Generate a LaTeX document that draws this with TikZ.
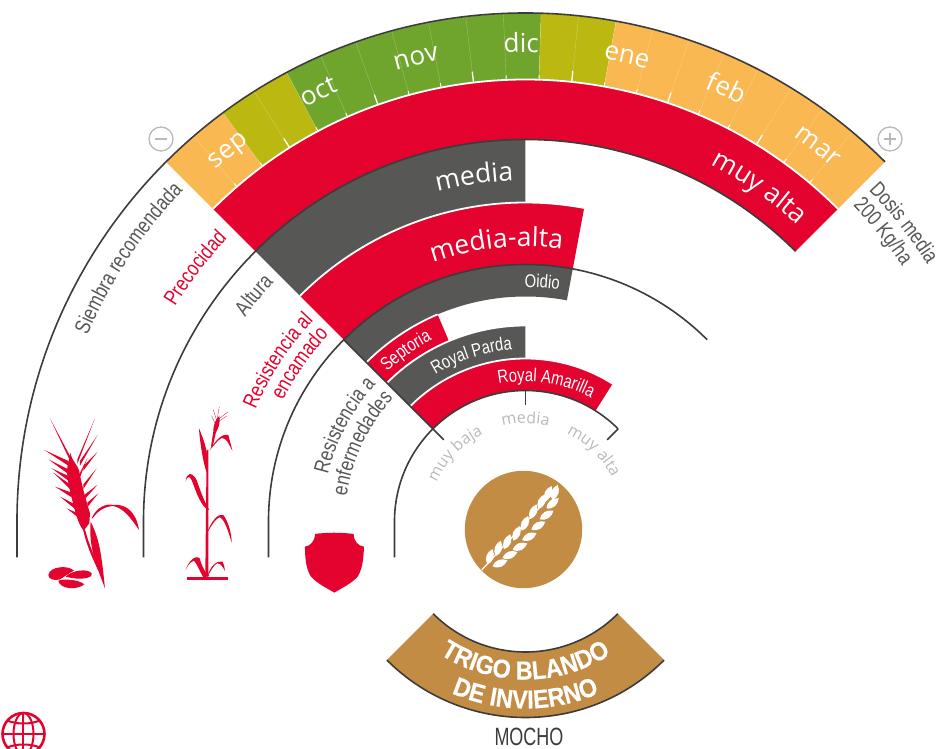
\documentclass[tikz,border=0pt]{standalone}
\usepackage{fontspec}
\usetikzlibrary{decorations.text}
\newfontfamily\fo{Open Sans}
\newfontfamily\fn[FakeStretch=0.80]{Liberation Sans}
\newfontfamily\fb[FakeStretch=0.90,FakeBold=0.3]{Liberation Sans Bold}
\newfontfamily\fm[FakeStretch=0.72]{Liberation Sans}
\definecolor{cred}{HTML}{E4032E}
\definecolor{cdark}{HTML}{575756}
\definecolor{cline}{HTML}{3C3C3B}
\definecolor{corange}{HTML}{F9B851}
\definecolor{cyell}{HTML}{BBB811}
\definecolor{cgreen}{HTML}{6FA52D}
\definecolor{ctan}{HTML}{C28C45}
\definecolor{cgrey}{HTML}{B9B9B9}
\tikzset{
  darkarc/.style={draw=cline,line width=1.6pt},
  whitearc/.style={draw=white,line width=1.8pt},
  signring/.style={draw=cgrey,line width=1.3pt},
  iconred/.style={fill=cred,draw=none},
  awn/.style={draw=cred,line width=0.3pt,line cap=round},
}
\newcommand\sector[5]{\fill[#1] (#4:#3) arc[start angle=#4,end angle=#5,radius=#3] -- (#5:#2) arc[start angle=#5,end angle=#4,radius=#2] -- cycle;}
\newcommand\arctxt[6]{\path[decorate,decoration={text along path,text align=#5,text={|#1|#6}}] (#3:#2) arc[start angle=#3,end angle=#4,radius=#2];}
\newcommand\fsMonth{\fo\fontsize{26}{26}\selectfont\color{white}}
\newcommand\fsBig{\fo\fontsize{26.5}{26.5}\selectfont\color{white}}
\newcommand\fsSide{\fn\fontsize{21.5}{21.5}\selectfont\color{cdark}}
\newcommand\fsSideR{\fn\fontsize{21.5}{21.5}\selectfont\color{cred}}
\newcommand\fsBand{\fn\fontsize{18.5}{18.5}\selectfont\color{white}}
\newcommand\fsScale{\fo\fontsize{16}{16}\selectfont\color{cgrey}}
\newcommand\fsBan{\fb\fontsize{26}{26}\selectfont\color{white}}
\begin{document}
\begin{tikzpicture}[x=1pt,y=1pt]
\useasboundingbox (-525.5,-227.5) rectangle (414.5,521.5);
% month band
\sector{corange}{442}{508}{135}{126.5}
\sector{cyell}{442}{508}{126.5}{118}
\sector{cgreen}{442}{508}{118}{88.25}
\sector{cyell}{442}{508}{88.25}{79.75}
\sector{corange}{442}{508}{79.75}{45}
\foreach \i in {1,...,20}{
  \pgfmathsetmacro\aa{135-4.25*\i}
  \draw[white,opacity=0.3,line width=0.4pt] (\aa:447) -- (\aa:508);
  \pgfmathtruncatemacro\mm{mod(\i,3)}
  \ifnum\mm=0 \draw[white,line width=1.3pt] (\aa:442) -- (\aa:453);
  \else \draw[white,line width=1pt] (\aa:442) -- (\aa:446.5); \fi
}
% bands
\sector{cred}{382}{442}{135}{45}
\sector{cdark}{319}{382}{135}{90}
\sector{cred}{257}{319}{135}{79.4}
\sector{cdark}{225}{257}{135}{79.4}
\sector{cred}{196}{225}{135}{113}
\sector{cdark}{163}{196}{135}{90}
\sector{cred}{131}{163}{135}{57.7}
% white separators
\draw[whitearc] (135:442) arc[start angle=135,end angle=45,radius=442];
\draw[whitearc] (135:319) arc[start angle=135,end angle=79.4,radius=319];
\draw[whitearc] (135:225) arc[start angle=135,end angle=113,radius=225];
\draw[whitearc] (135:196) arc[start angle=135,end angle=90,radius=196];
\draw[whitearc] (135:163) arc[start angle=135,end angle=57.7,radius=163];
% dark arcs
\foreach \r/\e in {508.5/45,382/45,257/45,131/45}{
  \draw[darkarc] (-\r,-36) -- (-\r,0) arc[start angle=180,end angle=\e,radius=\r];
}
\draw[darkarc] (135:257) -- (135:115.5);
\draw[darkarc] (45:131) -- (45:115.5);
\draw[darkarc] (0,131) -- (0,116.5);
% sign rings
\node[circle,signring,minimum size=24pt,inner sep=0pt] (minus) at (-364.5,382.5) {};
\node[circle,signring,minimum size=24pt,inner sep=0pt] (plus) at (364.5,382.5) {};
\draw[draw=cgrey,line width=1.3pt] (-370.5,382.5) -- (-358.5,382.5);
\draw[draw=cgrey,line width=1.3pt] (358.5,382.5) -- (370.5,382.5) (364.5,376.5) -- (364.5,388.5);
% month labels
\arctxt{\fsMonth}{469}{158.7}{98.7}{center}{sep}
\arctxt{\fsMonth}{469}{145.7}{85.7}{center}{oct}
\arctxt{\fsMonth}{469}{133.3}{73.3}{center}{nov}
\arctxt{\fsMonth}{469}{120.5}{60.5}{center}{dic}
\arctxt{\fsMonth}{469}{107.7}{47.7}{center}{ene}
\arctxt{\fsMonth}{469}{95.1}{35.1}{center}{feb}
\arctxt{\fsMonth}{469}{82.1}{22.1}{center}{mar}
% band labels
\arctxt{\fsBig}{402}{85}{25}{center}{muy alta}
\arctxt{\fsBig}{341}{152}{92}{right}{media}
\arctxt{\fsBig}{275}{156}{36}{center}{media-alta}
\arctxt{\fsBand}{234}{146}{26}{center}{Oidio}
\arctxt{\fsBand}{204}{185}{65}{center}{Septoria}
\arctxt{\fsBand}{172}{168}{48}{center}{Royal Parda}
\arctxt{\fsBand}{140}{141.5}{21.5}{center}{Royal Amarilla}
% scale labels
\arctxt{\fsScale}{98}{150}{30}{center}{media}
\arctxt{\fsScale}{97}{196}{76}{center}{muy baja}
\arctxt{\fsScale}{97}{106}{-14}{center}{muy alta}
% side labels
\arctxt{\fsSide}{476}{230}{136}{right}{Siembra recomendada}
\arctxt{\fsSideR}{411}{230}{136.5}{right}{Precocidad}
\arctxt{\fsSide}{347}{230}{136.5}{right}{Altura}
\arctxt{\fsSideR}{292}{230}{136.5}{right}{Resistencia al}
\arctxt{\fsSideR}{271}{230}{136.5}{right}{encamado}
\arctxt{\fsSide}{203}{230}{137.5}{right}{Resistencia a}
\arctxt{\fsSide}{180.5}{230}{137}{right}{enfermedades}
\arctxt{\fsSide}{477}{44}{-50}{left}{Dosis media}
\arctxt{\fsSide}{455}{44}{-50}{left}{200 Kg/ha}
% central circle and wheat
\node[circle,fill=ctan,minimum size=117.4pt,inner sep=0pt] (seal) at (-2,-8) {};
\draw[white,line width=1.2pt,line cap=round] (-43.8,-48.5) -- (27.5,28.5);
\foreach \x/\y/\a in {360/290/72,385/265/72,412/245/68,440/220/66,465/190/66,490/155/66,515/125/66,535/100/66,555/97/70,
  390/310/22,420/285/22,450/260/24,478/230/26,505/197/30,530/165/32,548/130/40}{
  \fill[white,shift={({\x/3-155.5},{61.5-\y/3})},rotate=\a] (-8,0) .. controls (-3,5.2) and (3,4.6) .. (8,0) .. controls (3,-4.6) and (-3,-5.2) .. (-8,0) -- cycle;
}
% banner
\sector{ctan}{130.5}{196}{225}{315}
\draw[darkarc] (225:130.5) arc[start angle=225,end angle=315,radius=130.5];
\draw[darkarc] (225:196) arc[start angle=225,end angle=315,radius=196];
\arctxt{\fsBan}{158}{200}{340}{center}{TRIGO BLANDO}
\arctxt{\fsBan}{187}{200}{340}{center}{DE INVIERNO}
\node[text=cline,font=\fm\fontsize{25}{25}\selectfont,inner sep=0pt] (mocho) at (3.5,-215.5) {MOCHO};
% icons, in coordinates of the 3x crop
\begin{scope}[shift={(-525.5pt,121.5pt)},x=0.3333pt,y=-0.3333pt]
  % wheat plant
  \fill[iconred] (212,158) .. controls (215,185) and (232,190) .. (238,215) .. controls (247,260) and (255,290) .. (270,340) -- (268,370) -- (251,392) .. controls (232,370) and (225,330) .. (214,290) .. controls (208,260) and (196,225) .. (204,190) -- cycle;
  \foreach \ax/\ay/\bx/\by in {210/175/150/55,232/185/285/55,240/190/293/105,250/205/293/155,250/260/290/205,255/290/292/255,262/315/295/280,205/190/133/150,205/215/145/178,205/235/155/205,210/260/160/218,215/285/165/260,225/320/180/290,240/350/200/325,238/230/262/175}{
    \fill[iconred] (\ax,{\ay-7}) -- (\bx,\by) -- (\ax,{\ay+7}) -- cycle;
  }
  \fill[iconred] (249,388) -- (255,388) .. controls (265,430) and (285,470) .. (298,512) -- (295,512) .. controls (275,470) and (258,430) .. (249,388) -- cycle;
  \fill[iconred] (272,365) .. controls (300,420) and (305,470) .. (315,565) .. controls (290,500) and (265,440) .. (272,365) -- cycle;
  \fill[iconred] (275,355) .. controls (290,320) and (320,310) .. (340,315) .. controls (380,310) and (410,340) .. (417,390) .. controls (390,350) and (370,325) .. (340,318) .. controls (315,320) and (295,330) .. (278,355) -- cycle;
  \fill[iconred] (145,525) .. controls (150,498) and (205,495) .. (222,512) .. controls (205,520) and (195,530) .. (178,539) .. controls (160,542) and (145,537) .. (145,525) -- cycle;
  \fill[iconred] (197,530) .. controls (215,510) and (265,505) .. (275,520) .. controls (280,535) and (240,542) .. (197,530) -- cycle;
  \fill[iconred] (175,542) .. controls (190,536) and (235,538) .. (253,553) .. controls (235,570) and (180,570) .. (175,542) -- cycle;
  % second plant
  \fill[iconred] (620,150) -- (625,150) -- (625,530) -- (616,530) -- cycle;
  \fill[iconred] (640,95) .. controls (640,70) and (650,55) .. (658,48) .. controls (662,70) and (655,85) .. (648,97) -- (638,140) -- (633,140) -- cycle;
  \foreach \ax/\ay/\bx/\by in {650/60/640/30,652/55/658/20,655/58/685/35,655/65/680/48,645/70/635/48}{\draw[awn] (\ax,\ay) -- (\bx,\by);}
  \fill[iconred] (597,85) .. controls (600,130) and (610,190) .. (620,217) .. controls (628,190) and (625,150) .. (597,85) -- cycle;
  \fill[iconred] (628,152) .. controls (650,115) and (670,100) .. (685,105) .. controls (690,125) and (695,140) .. (697,152) .. controls (685,130) and (680,114) .. (665,114) .. controls (650,122) and (640,140) .. (628,152) -- cycle;
  \fill[iconred] (557,245) .. controls (558,220) and (575,212) .. (590,240) .. controls (600,270) and (615,310) .. (628,330) .. controls (605,325) and (590,280) .. (575,240) .. controls (568,226) and (560,230) .. (557,245) -- cycle;
  \fill[iconred] (618,405) .. controls (635,360) and (655,340) .. (670,345) .. controls (685,365) and (695,400) .. (695,428) .. controls (685,395) and (675,360) .. (660,352) .. controls (645,355) and (630,385) .. (618,405) -- cycle;
  \fill[iconred] (557,510) .. controls (565,485) and (585,465) .. (598,473) .. controls (605,495) and (615,520) .. (628,528) -- (610,532) .. controls (600,515) and (590,490) .. (582,482) .. controls (570,485) and (562,500) .. (557,510) -- cycle;
  \fill[iconred] (622,530) .. controls (630,500) and (650,480) .. (668,485) .. controls (672,495) and (675,505) .. (675,513) .. controls (668,500) and (662,490) .. (652,490) .. controls (640,495) and (632,515) .. (622,530) -- cycle;
  \fill[iconred] (561,530) rectangle (684,540);
  % shield
  \fill[iconred] (945,402) .. controls (980,397) and (1025,397) .. (1061,402) .. controls (1062,425) and (1075,438) .. (1092,440) .. controls (1091,480) and (1086,510) .. (1073,530) .. controls (1055,550) and (1030,562) .. (1003,578) .. controls (976,562) and (951,550) .. (933,530) .. controls (920,510) and (915,480) .. (915,440) .. controls (930,438) and (945,425) .. (945,402) -- cycle;
\end{scope}
% globe
\begin{scope}
  \clip (-525.5,-227.5) rectangle (-470,-170);
  \draw[cred,line width=2.6pt] (-502,-212.5) circle[radius=21];
  \draw[cred,line width=2pt] (-502,-212.5) ellipse[x radius=10,y radius=21];
  \draw[cred,line width=2pt] (-502,-191.5) -- (-502,-227.5);
  \draw[cred,line width=2pt] (-523,-212.5) -- (-481,-212.5);
  \draw[cred,line width=2pt] (-518,-199) .. controls (-510,-203) and (-494,-203) .. (-486,-199);
  \draw[cred,line width=2pt] (-518,-226) .. controls (-510,-222) and (-494,-222) .. (-486,-226);
\end{scope}
\end{tikzpicture}
\end{document}
